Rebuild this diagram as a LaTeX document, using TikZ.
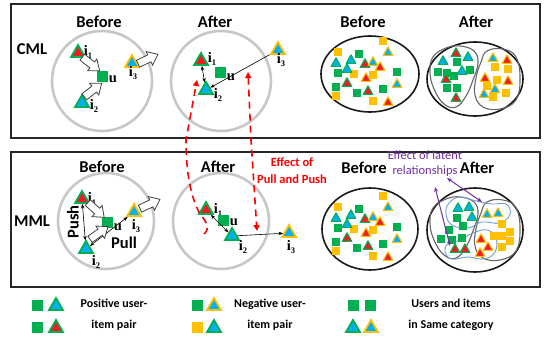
\documentclass[tikz,border=0pt]{standalone}
\usepackage{fontspec}
\setmainfont{Carlito}
\newfontfamily\serf{Liberation Serif}
\usetikzlibrary{arrows.meta,shapes.geometric}
\definecolor{itgreen}{RGB}{0,176,80}
\definecolor{itred}{RGB}{237,28,36}
\definecolor{itblue}{RGB}{0,176,240}
\definecolor{ityellow}{RGB}{255,192,0}
\definecolor{effred}{RGB}{255,0,0}
\definecolor{latpurple}{RGB}{112,48,160}
\definecolor{grpblue}{RGB}{112,156,214}
\tikzset{panel/.style={draw=black!85,line width=2.2pt},
         zone/.style={draw=black!22,line width=2.6pt},
         outl/.style={draw=black!90,line width=1.6pt},
         catg/.style={draw=black!60,line width=1.1pt},
         latg/.style={draw=grpblue,line width=.9pt},
         hdr/.style={font=\bfseries\fontsize{16.5}{18}\selectfont,inner sep=1pt},
         usr/.style={fill=itgreen,inner sep=0,minimum size=11pt},
         itm/.style 2 args={regular polygon,regular polygon sides=3,inner sep=0,
            minimum size=16pt,fill=#1,draw=#2,line width=1.8pt},
         lab/.style={font=\serf\bfseries\fontsize{14.5}{14}\selectfont,inner sep=0},
         shovearr/.style={fill=white,draw=black!75,line width=.8pt,line join=miter},
         tip/.style={-{Stealth[length=4.5pt,width=3.5pt]},line width=.6pt},
         rel/.style={{Stealth[length=4.5pt,width=3.5pt]}-{Stealth[length=4.5pt,width=3.5pt]},line width=.6pt},
         eff/.style={effred,dash pattern=on 7pt off 5pt,line width=1.6pt},
         latarr/.style={latpurple,line width=1pt,
            {Stealth[length=5pt,width=4pt]}-{Stealth[length=5pt,width=4pt]}},
         leg/.style={font=\bfseries\fontsize{12}{21}\selectfont,align=center}}
\newcommand{\idx}[2]{#1\kern.2pt\lower2.5pt\hbox{\fontsize{8.5}{9}\selectfont#2}}
\newcommand{\dsq}[3]{\fill[#3] (#1-3.6,#2-3.6) rectangle (#1+3.6,#2+3.6);}
\newcommand{\dtri}[4]{\filldraw[fill=#3,draw=#4,line width=1.1pt,line join=round]
  (#1,#2-5.2) -- (#1+4.8,#2+3.4) -- (#1-4.8,#2+3.4) -- cycle;}
% hollow block arrow: centre x, y and direction
\newcommand{\shove}[3]{\filldraw[shovearr,shift={(#1,#2)},rotate=#3]
  (-11,-3.8) -- (1.5,-3.8) -- (1.5,-7.5) -- (11,0) -- (1.5,7.5) -- (1.5,3.8) -- (-11,3.8) -- cycle;}
% users and items spread at random
\newcommand{\mixcloud}{%
  \foreach \x/\y in {383/41,338/52,354/74,373/75,336/96,373/101} {\dsq{\x}{\y}{ityellow}}
  \foreach \x/\y in {359/54,338/73,397/72,336/87,357/93,383/89} {\dsq{\x}{\y}{itgreen}}
  \foreach \x/\y in {336/63,351/60,347/69} {\dtri{\x}{\y}{itblue}{itgreen}}
  \foreach \x/\y in {365/64,347/83,368/91} {\dtri{\x}{\y}{itred}{itgreen}}
  \foreach \x/\y in {388/52,373/62,397/84} {\dtri{\x}{\y}{itblue}{ityellow}}
  \foreach \x/\y in {380/67,366/78,388/102} {\dtri{\x}{\y}{itred}{ityellow}}}
% one blob per category
\newcommand{\catblobs}{%
  \draw[catg] plot[smooth cycle,tension=.7] coordinates {(433,57) (446,48) (460,46)
    (474,51) (478,63) (473,80) (466,96) (456,107) (444,104) (434,89) (430,72)};
  \draw[catg] plot[smooth cycle,tension=.7] coordinates {(487,51) (503,49) (516,57)
    (520,78) (516,100) (500,109) (483,107) (475,95) (476,78) (481,62)};}

\begin{document}
\begin{tikzpicture}[x=1pt,y=-1pt]
  \useasboundingbox (0,0) rectangle (547,340);
  \draw[panel] (11,4) rectangle (540,138);
  \draw[panel] (11,152) rectangle (540,287);
  \node[hdr] (cml) at (32,49) {CML};
  \node[hdr] (mml) at (32,221) {MML};
  \node[hdr] (cb) at (99,22) {Before};
  \node[hdr] (ca) at (215,22) {After};
  \node[hdr] (cbs) at (363,22) {Before};
  \node[hdr] (cas) at (476,22) {After};
  \node[hdr] (mb) at (102,167) {Before};
  \node[hdr] (ma) at (218,167) {After};
  \node[hdr] (mbs) at (364,168) {Before};
  \node[hdr] (mas) at (477,168) {After};

  % CML, before
  \draw[zone] (102,81) circle (50);
  \node[itm={itred}{itgreen}] (ci1) at (78,53) {};
  \node[lab] (ci1l) at (88,52) {\idx{i}{1}};
  \node[usr] (cu) at (102,76) {};
  \node[lab] (cul) at (113,79) {u};
  \node[itm={itblue}{itgreen}] (ci2) at (82,103) {};
  \node[lab] (ci2l) at (94,106) {\idx{i}{2}};
  \node[itm={itblue}{ityellow}] (ci3) at (132,63) {};
  \node[lab] (ci3l) at (133,73) {\idx{i}{3}};
  \shove{91}{64}{-38}
  \shove{93}{90}{38}
  \shove{148}{59}{25}

  % CML, after
  \draw[zone] (221,81) circle (50);
  \node[itm={itred}{itgreen}] (ai1) at (201,61) {};
  \node[lab] (ai1l) at (212,59) {\idx{i}{1}};
  \node[usr] (au) at (220,72) {};
  \node[lab] (aul) at (231,77) {u};
  \node[itm={itblue}{itgreen}] (ai2) at (206,90) {};
  \node[lab] (ai2l) at (218,95) {\idx{i}{2}};
  \node[itm={itblue}{ityellow}] (ai3) at (278,50) {};
  \node[lab] (ai3l) at (281,60) {\idx{i}{3}};
  \draw[rel] (ai1) -- (ai2);
  \draw[tip] (ai3) -- (ai2);

  % MML, before
  \draw[zone] (106,221) circle (48);
  \node[itm={itred}{itgreen}] (bi1) at (82,199) {};
  \node[lab] (bi1l) at (92,199) {\idx{i}{1}};
  \node[usr] (bu) at (107,222) {};
  \node[lab] (bul) at (118,227) {u};
  \node[itm={itblue}{itgreen}] (bi2) at (86,249) {};
  \node[lab] (bi2l) at (96,262) {\idx{i}{2}};
  \node[itm={itblue}{ityellow}] (bi3) at (134,212) {};
  \node[lab] (bi3l) at (136,226) {\idx{i}{3}};
  \draw[rel] (bi1) -- (bi2);
  \draw[rel] (bi2) -- (bi3);
  \node[hdr,rotate=90] (push) at (73,222) {Push};
  \node[hdr] (pull) at (124,243) {Pull};
  \shove{96}{210}{-42}
  \shove{99}{233}{35}
  \shove{150}{204}{25}

  % MML, after
  \draw[zone] (221,221) circle (48);
  \node[itm={itred}{itgreen}] (di1) at (206,210) {};
  \node[lab] (di1l) at (218,210) {\idx{i}{1}};
  \node[usr] (du) at (223,220) {};
  \node[lab] (dul) at (234,222) {u};
  \node[itm={itblue}{itgreen}] (di2) at (232,236) {};
  \node[lab] (di2l) at (243,247) {\idx{i}{2}};
  \node[itm={itblue}{ityellow}] (di3) at (289,233) {};
  \node[lab] (di3l) at (291,247) {\idx{i}{3}};
  \draw[rel] (di1) -- (di2);
  \draw[tip] (di2) -- (di3);

  % effect of pull and push
  \coordinate (ea) at (204,234);
  \coordinate (eb) at (197,80);
  \coordinate (ec) at (248,72);
  \coordinate (ed) at (257,231);
  \draw[eff,-{Triangle[length=6pt,width=6pt]}] (ea) .. controls (210,229) and (207,222) ..
    (200,214) .. controls (190,196) and (186,170) .. (186,140) -- (eb);
  \draw[eff,{Triangle[length=6pt,width=6pt]}-{Triangle[length=6pt,width=6pt]}]
    (ec) -- (251,140) -- (ed);
  \node[font=\bfseries\fontsize{12.5}{17}\selectfont,text=effred,align=center] (efft)
    at (292,171) {Effect of\\Pull and Push};

  % clouds before training
  \draw[outl] (370,74) ellipse (49 and 38);
  \mixcloud
  \draw[outl] (370,229) ellipse (48 and 41);
  \begin{scope}[shift={(0,155)}]
    \mixcloud
  \end{scope}

  % CML, after: split by category
  \draw[outl] (475,79) ellipse (48 and 37);
  \catblobs
  \foreach \x/\y in {457/62,438/72,447/73,454/76,470/70,447/88,457/88} {\dsq{\x}{\y}{itgreen}}
  \foreach \x/\y in {443/61,468/57,462/71} {\dtri{\x}{\y}{itblue}{itgreen}}
  \foreach \x/\y in {456/53,446/79,456/98} {\dtri{\x}{\y}{itred}{itgreen}}
  \foreach \x/\y in {495/67,508/69,487/86,497/80,493/97,506/93} {\dsq{\x}{\y}{ityellow}}
  \foreach \x/\y in {493/58,484/94,495/89} {\dtri{\x}{\y}{itblue}{ityellow}}
  \foreach \x/\y in {507/60,485/78,508/81} {\dtri{\x}{\y}{itred}{ityellow}}

  % MML, after: categories and latent relations
  \draw[outl] (475,230) ellipse (48 and 42);
  \begin{scope}[shift={(0,151)}]
    \catblobs
  \end{scope}
  \draw[latg] plot[smooth cycle,tension=.7] coordinates {(449,203) (460,197) (476,201)
    (492,204) (506,204) (510,214) (500,223) (482,222) (468,228) (452,225) (446,214)};
  \draw[latg] plot[smooth cycle,tension=.7] coordinates {(448,244) (460,240) (473,233)
    (487,230) (496,238) (495,252) (484,259) (468,257) (452,259) (445,252)};
  \foreach \x/\y in {457/218,463/226,449/230,441/239,452/240,462/238} {\dsq{\x}{\y}{itgreen}}
  \foreach \x/\y in {502/224,494/236,502/236,510/232,510/241,502/247} {\dsq{\x}{\y}{ityellow}}
  \foreach \x/\y in {458/208,469/207,472/217} {\dtri{\x}{\y}{itblue}{itgreen}}
  \foreach \x/\y in {487/214,498/213} {\dtri{\x}{\y}{itblue}{ityellow}}
  \foreach \x/\y in {455/249,465/249} {\dtri{\x}{\y}{itred}{itgreen}}
  \foreach \x/\y in {481/239,488/247,480/253} {\dtri{\x}{\y}{itred}{ityellow}}
  \node[font=\fontsize{12.5}{15}\selectfont,text=latpurple,align=center] (latt)
    at (425,164) {Effect of latent\\relationships};
  \coordinate (la) at (447,178);
  \coordinate (lb) at (482,202);
  \coordinate (lc) at (435,187);
  \coordinate (ld) at (450,246);
  \draw[latarr] (la) -- (lb);
  \draw[latarr] (lc) -- (ld);

  % legend
  \node[usr] (lp1) at (37,305) {};
  \node[itm={itblue}{itgreen}] (lp2) at (56,306) {};
  \node[usr] (lp3) at (37,327) {};
  \node[itm={itred}{itgreen}] (lp4) at (56,328) {};
  \node[leg] (lpt) at (114,315) {Positive user-\\item pair};
  \node[usr] (ln1) at (197,305) {};
  \node[itm={itblue}{ityellow}] (ln2) at (214,306) {};
  \node[usr,fill=ityellow] (ln3) at (197,327) {};
  \node[itm={itblue}{itgreen}] (ln4) at (214,328) {};
  \node[leg] (lnt) at (270,315) {Negative user-\\item pair};
  \node[usr] (ls1) at (353,305) {};
  \node[usr] (ls2) at (370,305) {};
  \node[itm={itblue}{itgreen}] (ls3) at (353,328) {};
  \node[itm={itblue}{ityellow}] (ls4) at (371,328) {};
  \node[leg] (lst) at (451,315) {Users and items\\in Same category};
\end{tikzpicture}
\end{document}
